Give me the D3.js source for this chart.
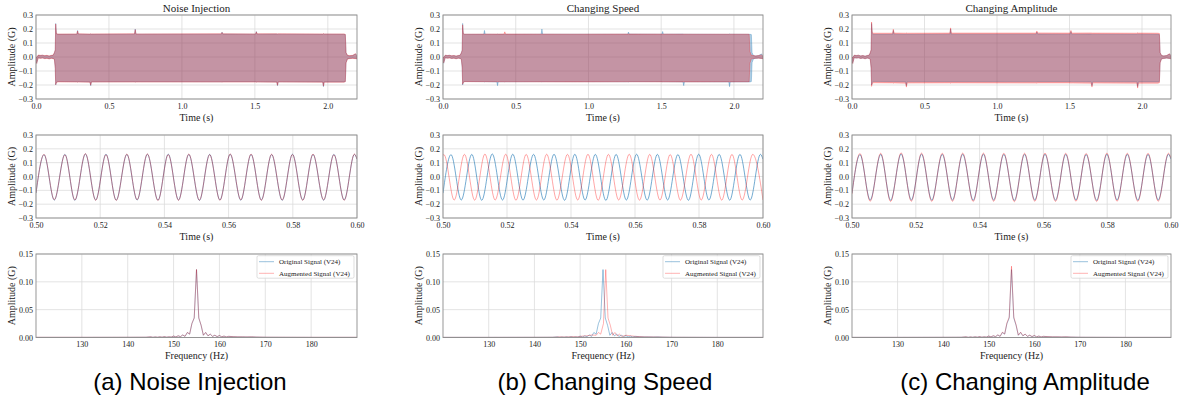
<!DOCTYPE html>
<html>
<head>
<meta charset="utf-8">
<script src="https://cdn.jsdelivr.net/npm/d3@7"></script>
<style>
body { margin: 0; background: #fff; }
svg text { font-family: "Liberation Serif", "DejaVu Serif", serif; fill: #222; }
svg text.caption { font-family: "Liberation Sans", Arial, sans-serif; fill: #000; }
</style>
</head>
<body>
<svg id="chart" width="1184" height="405"></svg>
<script>
// Labels
var titles = ["Noise Injection", "Changing Speed", "Changing Amplitude"];
var captions = ["(a) Noise Injection", "(b) Changing Speed", "(c) Changing Amplitude"];
var legendNames = ["Original Signal (V24)", "Augmented Signal (V24)"];

// Tick values
var fullTicks = [0.0, 0.5, 1.0, 1.5, 2.0];
var ampTicks = [-0.3, -0.2, -0.1, 0.0, 0.1, 0.2, 0.3];
var zoomTicks = [0.50, 0.52, 0.54, 0.56, 0.58, 0.60];
var freqTicks = [130, 140, 150, 160, 170, 180];
var fftTicks = [0.00, 0.05, 0.10, 0.15];

// Top row: envelope (max / min) of the whole recording
var envT = [0.000, 0.005, 0.015, 0.030, 0.045, 0.060, 0.075, 0.090, 0.105, 0.118, 0.126, 0.132, 0.135, 0.140, 0.150,
            0.280, 0.285, 0.290, 0.370, 0.375, 0.380, 0.675, 0.680, 0.685, 1.270, 1.275, 1.280, 1.505, 1.510, 1.515,
            1.650, 1.655, 1.660, 1.965, 1.970, 1.975, 2.110, 2.120, 2.125, 2.135, 2.150, 2.170, 2.190, 2.200];
var origHi = [0.000, -0.005, 0.012, 0.010, 0.012, 0.008, 0.010, 0.006, 0.010, 0.012, 0.030, 0.050, 0.240, 0.165, 0.162,
              0.162, 0.190, 0.163, 0.162, 0.164, 0.162, 0.163, 0.200, 0.163, 0.163, 0.178, 0.164, 0.163, 0.182, 0.163,
              0.164, 0.163, 0.163, 0.162, 0.165, 0.163, 0.162, 0.160, 0.030, 0.010, 0.008, 0.010, 0.022, 0.008];
var origLo = [-0.030, -0.045, -0.005, -0.008, -0.006, -0.010, -0.008, -0.012, -0.008, -0.010, -0.015, -0.080, -0.200, -0.180, -0.175,
              -0.176, -0.178, -0.176, -0.178, -0.205, -0.177, -0.176, -0.178, -0.176, -0.177, -0.178, -0.176, -0.176, -0.178, -0.177,
              -0.178, -0.205, -0.177, -0.178, -0.212, -0.178, -0.178, -0.175, -0.040, -0.012, -0.010, -0.008, -0.010, -0.012];
var noiseHi = [0.002, -0.003, 0.014, 0.012, 0.013, 0.010, 0.012, 0.008, 0.012, 0.014, 0.032, 0.052, 0.236, 0.167, 0.164,
               0.165, 0.186, 0.166, 0.164, 0.166, 0.165, 0.166, 0.196, 0.165, 0.166, 0.176, 0.166, 0.165, 0.180, 0.166,
               0.166, 0.165, 0.166, 0.165, 0.167, 0.165, 0.165, 0.162, 0.032, 0.012, 0.010, 0.012, 0.024, 0.010];
var noiseLo = [-0.032, -0.047, -0.007, -0.010, -0.008, -0.012, -0.010, -0.014, -0.010, -0.012, -0.017, -0.082, -0.198, -0.182, -0.178,
               -0.179, -0.180, -0.179, -0.180, -0.202, -0.179, -0.179, -0.180, -0.179, -0.179, -0.180, -0.179, -0.179, -0.180, -0.179,
               -0.180, -0.202, -0.179, -0.180, -0.208, -0.180, -0.180, -0.177, -0.042, -0.014, -0.012, -0.010, -0.012, -0.014];
var ampHi = [0.000, -0.005, 0.013, 0.011, 0.013, 0.008, 0.011, 0.006, 0.011, 0.013, 0.032, 0.053, 0.250, 0.173, 0.170,
             0.170, 0.198, 0.171, 0.170, 0.172, 0.170, 0.171, 0.208, 0.171, 0.171, 0.186, 0.172, 0.171, 0.190, 0.171,
             0.172, 0.171, 0.171, 0.170, 0.173, 0.171, 0.170, 0.168, 0.032, 0.011, 0.008, 0.011, 0.023, 0.008];
var ampLo = [-0.032, -0.047, -0.005, -0.008, -0.006, -0.011, -0.008, -0.013, -0.008, -0.011, -0.016, -0.084, -0.210, -0.189, -0.184,
             -0.185, -0.187, -0.185, -0.187, -0.215, -0.186, -0.185, -0.187, -0.185, -0.186, -0.187, -0.185, -0.185, -0.187, -0.186,
             -0.187, -0.215, -0.186, -0.187, -0.222, -0.187, -0.187, -0.184, -0.042, -0.013, -0.011, -0.008, -0.011, -0.013];
var speedT = [0.000, 0.005, 0.015, 0.030, 0.045, 0.060, 0.075, 0.090, 0.105, 0.118, 0.126, 0.132, 0.135, 0.140, 0.150,
              0.420, 0.425, 0.430, 0.900, 1.300, 1.700, 2.095, 2.105, 2.110, 2.120, 2.135, 2.150, 2.170, 2.190, 2.200];
var speedHi = [0.002, -0.004, 0.013, 0.011, 0.012, 0.009, 0.011, 0.007, 0.011, 0.013, 0.030, 0.048, 0.230, 0.166, 0.163,
               0.164, 0.180, 0.164, 0.163, 0.164, 0.163, 0.163, 0.162, 0.040, 0.012, 0.010, 0.008, 0.011, 0.015, 0.006];
var speedLo = [-0.028, -0.042, -0.006, -0.009, -0.007, -0.011, -0.009, -0.013, -0.009, -0.011, -0.016, -0.075, -0.195, -0.180, -0.176,
               -0.177, -0.179, -0.177, -0.178, -0.177, -0.178, -0.177, -0.176, -0.045, -0.013, -0.011, -0.009, -0.009, -0.011, -0.013];

// Middle row: peaks and troughs between 0.5 and 0.6 s
var waveT = [0.5000, 0.5025, 0.5057, 0.5090, 0.5121, 0.5154, 0.5186, 0.5218, 0.5250, 0.5283, 0.5315, 0.5347, 0.5380, 0.5412, 0.5444, 0.5476,
             0.5509, 0.5541, 0.5573, 0.5605, 0.5638, 0.5670, 0.5702, 0.5734, 0.5767, 0.5799, 0.5831, 0.5863, 0.5896, 0.5928, 0.5960, 0.5992, 0.6000];
var origWave = [-0.120, 0.158, -0.170, 0.160, -0.172, 0.163, -0.170, 0.161, -0.171, 0.160, -0.170, 0.161, -0.172, 0.161, -0.170, 0.160,
                -0.173, 0.160, -0.170, 0.161, -0.171, 0.160, -0.170, 0.159, -0.172, 0.161, -0.170, 0.160, -0.171, 0.160, -0.170, 0.160, 0.125];
var noiseWave = [-0.118, 0.160, -0.168, 0.158, -0.170, 0.165, -0.172, 0.159, -0.173, 0.162, -0.168, 0.163, -0.174, 0.159, -0.172, 0.162,
                 -0.171, 0.158, -0.172, 0.163, -0.169, 0.162, -0.172, 0.161, -0.170, 0.159, -0.172, 0.162, -0.169, 0.158, -0.172, 0.162, 0.127];
var ampWave = [-0.126, 0.166, -0.179, 0.168, -0.181, 0.171, -0.179, 0.169, -0.180, 0.168, -0.179, 0.169, -0.181, 0.169, -0.179, 0.168,
               -0.182, 0.168, -0.179, 0.169, -0.180, 0.168, -0.179, 0.167, -0.181, 0.169, -0.179, 0.168, -0.180, 0.168, -0.179, 0.168, 0.131];
var speedWaveT = [0.5000, 0.5003, 0.5035, 0.5067, 0.5099, 0.5131, 0.5163, 0.5196, 0.5228, 0.5260, 0.5292, 0.5324, 0.5356, 0.5389, 0.5421, 0.5453,
                  0.5485, 0.5517, 0.5549, 0.5582, 0.5614, 0.5646, 0.5678, 0.5710, 0.5742, 0.5775, 0.5807, 0.5839, 0.5871, 0.5903, 0.5935, 0.5968, 0.6000];
var speedWave = [0.155, 0.158, -0.170, 0.160, -0.171, 0.162, -0.170, 0.161, -0.172, 0.160, -0.170, 0.161, -0.171, 0.160, -0.170, 0.161,
                 -0.172, 0.160, -0.170, 0.161, -0.171, 0.160, -0.170, 0.159, -0.171, 0.161, -0.170, 0.160, -0.171, 0.160, -0.170, 0.160, -0.170];

// Bottom row: spectrum
var fftF = [120, 130, 140, 144, 145, 145.5, 146, 146.5, 147, 147.5, 148, 148.5, 149, 149.5, 150, 150.5, 151, 151.5, 152, 152.5,
            153, 153.5, 154, 154.5, 155, 155.5, 156, 156.5, 157, 157.5, 158, 158.5, 159, 159.5, 160, 160.5, 161, 161.5, 162,
            163, 164, 165, 166, 167, 168, 170, 180, 190];
var origFft = [0.0003, 0.0003, 0.0004, 0.0005, 0.0012, 0.0004, 0.0010, 0.0005, 0.0012, 0.0006, 0.0015, 0.0006, 0.0012, 0.0008, 0.0025, 0.0010, 0.0030, 0.0015, 0.0045, 0.0020,
               0.0090, 0.0060, 0.0250, 0.0350, 0.1220, 0.0350, 0.0220, 0.0040, 0.0090, 0.0030, 0.0060, 0.0020, 0.0040, 0.0015, 0.0035, 0.0012, 0.0025, 0.0010, 0.0020,
               0.0015, 0.0012, 0.0012, 0.0010, 0.0012, 0.0008, 0.0005, 0.0003, 0.0003];
var noiseFft = [0.0004, 0.0004, 0.0005, 0.0006, 0.0013, 0.0005, 0.0011, 0.0006, 0.0013, 0.0007, 0.0016, 0.0007, 0.0013, 0.0009, 0.0026, 0.0011, 0.0031, 0.0016, 0.0046, 0.0021,
                0.0091, 0.0061, 0.0252, 0.0352, 0.1222, 0.0352, 0.0222, 0.0041, 0.0091, 0.0031, 0.0061, 0.0021, 0.0041, 0.0016, 0.0036, 0.0013, 0.0026, 0.0011, 0.0021,
                0.0016, 0.0013, 0.0013, 0.0011, 0.0013, 0.0009, 0.0006, 0.0004, 0.0004];
var ampFft = [0.0003, 0.0003, 0.0004, 0.0005, 0.0013, 0.0004, 0.0011, 0.0005, 0.0013, 0.0006, 0.0016, 0.0006, 0.0013, 0.0008, 0.0026, 0.0011, 0.0032, 0.0016, 0.0047, 0.0021,
              0.0095, 0.0063, 0.0263, 0.0368, 0.1281, 0.0368, 0.0231, 0.0042, 0.0095, 0.0032, 0.0063, 0.0021, 0.0042, 0.0016, 0.0037, 0.0013, 0.0026, 0.0011, 0.0021,
              0.0016, 0.0013, 0.0013, 0.0011, 0.0013, 0.0008, 0.0005, 0.0003, 0.0003];
var speedFftF = [120, 130, 140, 144, 145.5, 146.5, 147.5, 148.5, 149.5, 150.5, 151.5, 152.5, 153.5, 154, 154.5, 155.1, 155.6,
                 156.1, 156.6, 157.1, 157.6, 158.1, 158.6, 159.1, 160.1, 161.1, 162.1, 164, 166, 168, 170, 180, 190];
var speedFft = [0.0003, 0.0003, 0.0004, 0.0005, 0.0012, 0.0010, 0.0012, 0.0015, 0.0012, 0.0025, 0.0030, 0.0045, 0.0040, 0.0090, 0.0060, 0.0250, 0.1220,
                0.0350, 0.0220, 0.0040, 0.0090, 0.0030, 0.0060, 0.0020, 0.0040, 0.0030, 0.0020, 0.0012, 0.0010, 0.0008, 0.0005, 0.0003, 0.0003];

// Colours
var blue = "#1f77b4";
var red = "#ff0000";

// Layout of the 3x3 grid
var colLeft = [36, 443, 852];
var colWidth = [321, 320, 319];
var rowTop = [15, 135, 254];
var rowHeight = [84, 83, 83.5];
var captionX = [190, 605, 1025];

var svg = d3.select("#chart");

function zip(xs, ys, ys2) {
    return xs.map(function(v, i) {
        return ys2 ? {x: v, hi: ys[i], lo: ys2[i]} : {x: v, y: ys[i]};
    });
}

// Draws one subplot: frame, grid, tick labels, series
function drawPanel(col, row, cfg) {
    var left = colLeft[col], top = rowTop[row];
    var w = colWidth[col], h = rowHeight[row];
    var g = svg.append("g").attr("transform", `translate(${left},${top})`);
    var clipId = `clip-${col}-${row}`;

    var x = d3.scaleLinear().domain(cfg.xDomain).range([0, w]);
    var y = d3.scaleLinear().domain(cfg.yDomain).range([h, 0]);

    g.append("clipPath").attr("id", clipId)
        .append("rect").attr("width", w).attr("height", h);

    // Grid
    g.selectAll(".vgrid").data(cfg.xTicks).enter().append("line")
        .attr("x1", function(d) { return x(d); })
        .attr("x2", function(d) { return x(d); })
        .attr("y1", 0).attr("y2", h)
        .attr("stroke", "#dcdcdc").attr("stroke-width", 0.8);
    g.selectAll(".hgrid").data(cfg.yTicks).enter().append("line")
        .attr("x1", 0).attr("x2", w)
        .attr("y1", function(d) { return y(d); })
        .attr("y2", function(d) { return y(d); })
        .attr("stroke", "#dcdcdc").attr("stroke-width", 0.8);

    // Axes (no tick marks, just labels)
    var xAxis = d3.axisBottom(x).tickValues(cfg.xTicks).tickFormat(d3.format(cfg.xFormat)).tickSize(0).tickPadding(4);
    var yAxis = d3.axisLeft(y).tickValues(cfg.yTicks).tickFormat(d3.format(cfg.yFormat)).tickSize(0).tickPadding(3);
    var gx = g.append("g").attr("transform", `translate(0,${h})`).call(xAxis);
    var gy = g.append("g").call(yAxis);
    [gx, gy].forEach(function(a) {
        a.select(".domain").remove();
        a.selectAll("text").style("font-family", "Liberation Serif").style("font-size", "8px").attr("fill", "#222");
    });

    // Series
    var plot = g.append("g").attr("clip-path", `url(#${clipId})`);
    cfg.series.forEach(function(s) {
        if (s.type == "area") {
            var area = d3.area()
                .x(function(d) { return x(d.x); })
                .y0(function(d) { return y(d.lo); })
                .y1(function(d) { return y(d.hi); });
            plot.append("path")
                .attr("d", area(s.data))
                .attr("fill", s.color).attr("fill-opacity", s.opacity)
                .attr("stroke", s.color).attr("stroke-opacity", s.opacity + 0.1).attr("stroke-width", 0.7);
        } else {
            var line = d3.line()
                .x(function(d) { return x(d.x); })
                .y(function(d) { return y(d.y); })
                .curve(s.curve || d3.curveLinear);
            plot.append("path")
                .attr("d", line(s.data))
                .attr("fill", "none")
                .attr("stroke", s.color).attr("stroke-opacity", s.opacity).attr("stroke-width", 1);
        }
    });

    // Frame
    g.append("rect").attr("width", w).attr("height", h)
        .attr("fill", "none").attr("stroke", "#8c8c8c").attr("stroke-width", 0.9);

    // Labels
    g.append("text").attr("x", w/2).attr("y", h + 21.5)
        .attr("text-anchor", "middle").style("font-size", "10px").text(cfg.xLabel);
    g.append("text").attr("transform", `translate(-21,${h/2}) rotate(-90)`)
        .attr("text-anchor", "middle").style("font-size", "10px").text("Amplitude (G)");

    if (cfg.title) {
        g.append("text").attr("x", w/2).attr("y", -3)
            .attr("text-anchor", "middle").style("font-size", "11px").text(cfg.title);
    }

    // Legend box at top right
    if (cfg.legend) {
        var lw = 97, lh = 22.5;
        var lg = g.append("g").attr("transform", `translate(${w - lw - 3},1.7)`);
        lg.append("rect").attr("width", lw).attr("height", lh).attr("rx", 1.5)
            .attr("fill", "#fff").attr("fill-opacity", 0.85)
            .attr("stroke", "#d0d0d0").attr("stroke-width", 0.7);
        legendNames.forEach(function(name, i) {
            var yy = 6 + i * 11.6;
            lg.append("line").attr("x1", 2).attr("x2", 17).attr("y1", yy).attr("y2", yy)
                .attr("stroke", i == 0 ? blue : red).attr("stroke-opacity", i == 0 ? 0.45 : 0.3);
            lg.append("text").attr("x", 22).attr("y", yy + 2.4)
                .style("font-size", "7px").text(name);
        });
    }
}

var augEnvelope = [zip(envT, noiseHi, noiseLo), zip(speedT, speedHi, speedLo), zip(envT, ampHi, ampLo)];
var augWave = [zip(waveT, noiseWave), zip(speedWaveT, speedWave), zip(waveT, ampWave)];
var augFft = [zip(fftF, noiseFft), zip(speedFftF, speedFft), zip(fftF, ampFft)];

for (var c = 0; c < 3; c++) {
    drawPanel(c, 0, {
        xDomain: [0, 2.2], yDomain: [-0.3, 0.3],
        xTicks: fullTicks, yTicks: ampTicks, xFormat: ".1f", yFormat: ".1f",
        xLabel: "Time (s)", title: titles[c],
        series: [
            {type: "area", data: zip(envT, origHi, origLo), color: blue, opacity: 0.36},
            {type: "area", data: augEnvelope[c], color: red, opacity: 0.28}
        ]
    });
    drawPanel(c, 1, {
        xDomain: [0.5, 0.6], yDomain: [-0.3, 0.3],
        xTicks: zoomTicks, yTicks: ampTicks, xFormat: ".2f", yFormat: ".1f",
        xLabel: "Time (s)",
        series: [
            {type: "line", data: zip(waveT, origWave), color: blue, opacity: 0.62, curve: d3.curveMonotoneX},
            {type: "line", data: augWave[c], color: red, opacity: 0.35, curve: d3.curveMonotoneX}
        ]
    });
    drawPanel(c, 2, {
        xDomain: [120, 190], yDomain: [0, 0.15],
        xTicks: freqTicks, yTicks: fftTicks, xFormat: "d", yFormat: ".2f",
        xLabel: "Frequency (Hz)", legend: true,
        series: [
            {type: "line", data: zip(fftF, origFft), color: blue, opacity: 0.45},
            {type: "line", data: augFft[c], color: red, opacity: 0.3}
        ]
    });

    svg.append("text").attr("class", "caption")
        .attr("x", captionX[c]).attr("y", 390)
        .attr("text-anchor", "middle").style("font-size", "24px")
        .text(captions[c]);
}
</script>
</body>
</html>
